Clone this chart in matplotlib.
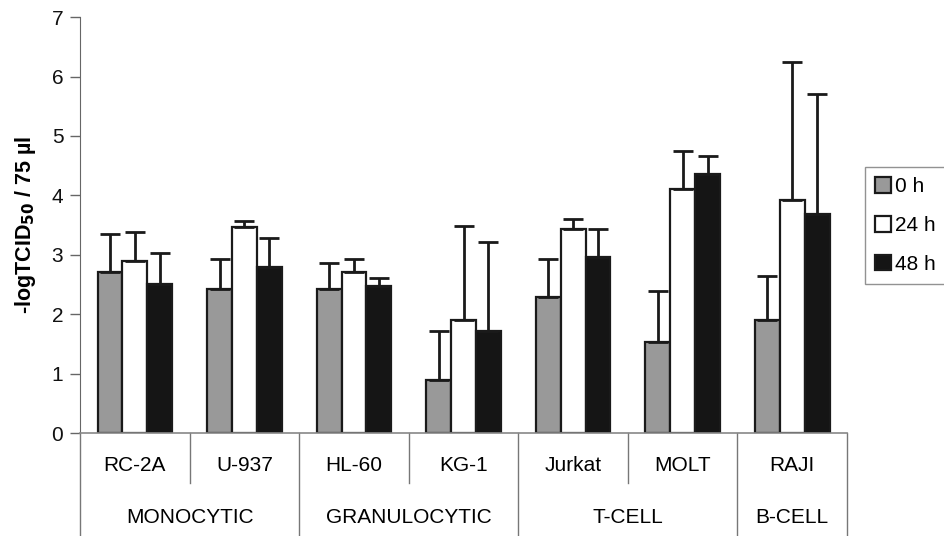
import matplotlib
matplotlib.use("Agg")
import matplotlib.pyplot as plt
import matplotlib.transforms as mtransforms
import numpy as np

plt.rcParams['font.family'] = ['Liberation Sans', 'DejaVu Sans']

cells = ["RC-2A", "U-937", "HL-60", "KG-1", "Jurkat", "MOLT", "RAJI"]
groups = ["MONOCYTIC", "GRANULOCYTIC", "T-CELL", "B-CELL"]
group_sizes = [2, 2, 2, 1]
series = ["0 h", "24 h", "48 h"]
vals_0h = [2.71, 2.42, 2.42, 0.90, 2.29, 1.54, 1.90]
vals_24h = [2.89, 3.46, 2.71, 1.90, 3.43, 4.10, 3.93]
vals_48h = [2.51, 2.80, 2.48, 1.72, 2.97, 4.36, 3.69]
err_0h = [0.64, 0.51, 0.44, 0.81, 0.64, 0.85, 0.74]
err_24h = [0.50, 0.11, 0.22, 1.59, 0.17, 0.64, 2.31]
err_48h = [0.52, 0.48, 0.13, 1.49, 0.46, 0.31, 2.01]
colors = ["#999999", "#ffffff", "#151515"]

FS = 15

fig = plt.figure(figsize=(9.45, 5.36), dpi=100)
ax = fig.add_axes([0.0847, 0.192, 0.8116, 0.776])

x = np.arange(len(cells))
w = 0.227
allvals = [vals_0h, vals_24h, vals_48h]
allerr = [err_0h, err_24h, err_48h]
for i, (v, e, c, s) in enumerate(zip(allvals, allerr, colors, series)):
    pos = x + (i - 1) * w
    ax.bar(pos, v, width=w, color=c, edgecolor="#1a1a1a", linewidth=1.6, label=s, zorder=2)
    ax.errorbar(pos, v, yerr=[np.zeros(len(e)), e], fmt="none", ecolor="#1a1a1a",
                elinewidth=2.0, capsize=7, capthick=2.0, zorder=3)

ax.set_xlim(-0.5, len(cells) - 0.5)
ax.set_ylim(0, 7)
ax.set_yticks(range(0, 8))
ax.tick_params(axis="y", labelsize=FS, length=7, width=1.0, color="#666666", pad=5,
               labelcolor="#111111")
ax.set_xticks([])
for sp in ["top", "right"]:
    ax.spines[sp].set_visible(False)
ax.spines["left"].set_color("#666666")
ax.spines["bottom"].set_color("#888888")
ax.spines["bottom"].set_linewidth(1.2)

ax.set_ylabel(r"-logTCID$_{\mathbf{50}}$ / 75 µl", fontsize=15.5, fontweight="bold", labelpad=10)

trans = mtransforms.blended_transform_factory(ax.transData, ax.transAxes)
for xi, name in zip(x, cells):
    ax.text(xi, -0.079, name, transform=trans, ha="center", va="center", fontsize=FS)
bounds = np.concatenate([[0], np.cumsum(group_sizes)]) - 0.5
long_pos = set(np.round(bounds, 2))
for b in np.arange(-0.5, len(cells), 1.0):
    ybot = -0.26 if round(b, 2) in long_pos else -0.12
    ax.plot([b, b], [0, ybot], transform=trans, color="#777777", lw=1.0, clip_on=False)
for g, lo, hi in zip(groups, bounds[:-1], bounds[1:]):
    ax.text((lo + hi) / 2, -0.204, g, transform=trans, ha="center", va="center", fontsize=FS)

leg = ax.legend(loc="center left", bbox_to_anchor=(1.0, 0.499), fontsize=FS,
                frameon=True, fancybox=False, edgecolor="#777777",
                handlelength=0.77, handleheight=0.77, handletextpad=0.2,
                labelspacing=0.95, borderpad=0.5, borderaxespad=0.85)
leg.get_frame().set_linewidth(1.0)

fig.savefig("out.png", dpi=100)
